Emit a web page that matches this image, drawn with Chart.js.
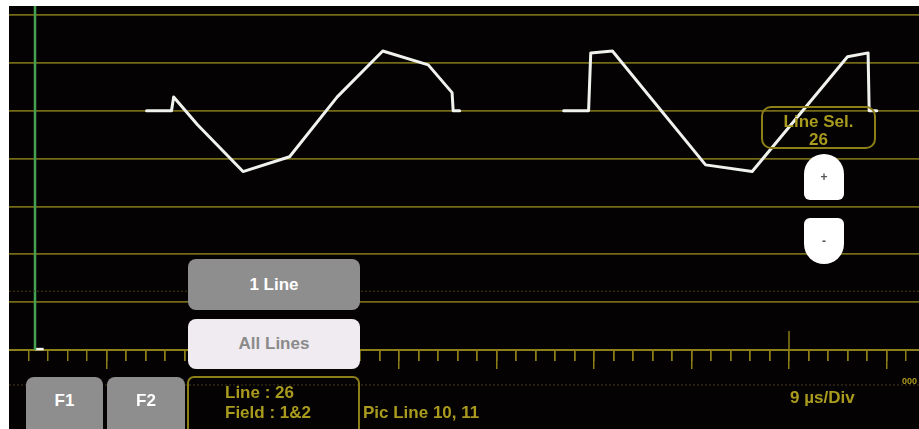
<!DOCTYPE html>
<html>
<head>
<meta charset="utf-8">
<script src="https://cdn.jsdelivr.net/npm/chart.js@4.4.1/dist/chart.umd.min.js"></script>
<style>
  html, body { margin: 0; padding: 0; background: #fff; }
  body { width: 919px; height: 429px; position: relative; overflow: hidden;
         font-family: 'Liberation Sans', Arial, sans-serif; font-weight: bold; }
  #screen { position: absolute; left: 9px; top: 6px; width: 910px; height: 423px; background: #050203; }
  #scope { position: absolute; left: 0; top: 0; }
  .btn { position: absolute; box-sizing: border-box; border-radius: 8px; display: flex;
         align-items: center; justify-content: center; font-size: 17px; }
  .gray { background: #8e8e8e; color: #fff; }
  .pale { background: #efebf0; color: #8a8a8a; }
  .olive { color: #a99b1e; }
  .box { position: absolute; box-sizing: border-box; border: 2px solid #8c7f17; }
  .txt { position: absolute; font-size: 17px; white-space: nowrap; line-height: 19px; }
  .pm { position: absolute; background: #fff; color: #555; font-size: 12px; display: flex;
        align-items: center; justify-content: center; }
</style>
</head>
<body>
<div id="screen">
  <canvas id="scope" width="910" height="423"></canvas>
</div>

<!-- overlays (page coordinates) -->
<div class="box" style="left:761px;top:106px;width:115px;height:43px;border-radius:10px;"></div>
<div class="txt olive" style="left:761px;top:112px;width:115px;text-align:center;">Line Sel.</div>
<div class="txt olive" style="left:761px;top:130px;width:115px;text-align:center;">26</div>

<div class="pm" style="left:804px;top:154px;width:40px;height:46px;border-radius:20px 20px 6px 6px;">+</div>
<div class="pm" style="left:804px;top:218px;width:40px;height:46px;border-radius:6px 6px 20px 20px;">-</div>

<div class="btn gray" style="left:188px;top:259px;width:172px;height:51px;">1 Line</div>
<div class="btn pale" style="left:188px;top:319px;width:172px;height:50px;">All Lines</div>

<div class="btn gray" style="left:26px;top:377px;width:77px;height:60px;padding-bottom:12px;">F1</div>
<div class="btn gray" style="left:107px;top:377px;width:78px;height:60px;padding-bottom:12px;">F2</div>

<div class="box" style="left:187px;top:376px;width:173px;height:60px;border-radius:7px;"></div>
<div class="txt olive" style="left:225px;top:383px;">Line : 26</div>
<div class="txt olive" style="left:225px;top:403px;">Field : 1&amp;2</div>
<div class="txt olive" style="left:363px;top:403px;">Pic Line 10, 11</div>
<div class="txt olive" style="left:790px;top:388px;">9 µs/Div</div>
<div class="txt olive" style="left:902px;top:376px;font-size:9px;line-height:10px;">000</div>

<script>
// Waveform monitor trace (x in µs, y in mV relative to blanking level)
const wave1Time  = [3.7, 6.0, 6.2, 8.4, 12.6, 16.9, 21.3, 25.5, 29.7, 31.9, 32.0, 32.6];
const wave1Level = [0, 0, 29, -29, -127, -96, 29, 125, 96, 38, 0, 0];
const wave2Time  = [42.2, 44.5, 44.7, 46.7, 55.3, 59.6, 68.4, 70.3, 70.4, 71.1];
const wave2Level = [0, 0, 121, 125, -113, -127, 113, 121, 0, 0];

// Graticule
const gridLevels  = [200, 100, 0, -100, -200, -300, -400, -500];
const dottedLevels = [-377, -573];
const axisLevel = -500;
const majorTicks = [0, 9, 18, 27, 36, 45, 54, 63, 72];
const minorTicks = [];
majorTicks.forEach(t => { for (let k = -4; k <= 4; k++) minorTicks.push(t + k * 1.8); });
const startMarkerTime = -6.6;
const cursorTime = 63;

const X_MIN = -9, X_MAX = 75, Y_MIN = -665, Y_MAX = 219;

function toPoints(xs, ys) {
  return xs.map((x, i) => ({ x: x, y: ys[i] }));
}

const datasets = [];

// dim dotted reference lines
dottedLevels.forEach(lv => {
  datasets.push({
    data: [{ x: X_MIN, y: lv }, { x: X_MAX, y: lv }],
    borderColor: '#4a3c1a', borderWidth: 1, borderDash: [2, 2], pointRadius: 0
  });
});

// green start-of-line marker
datasets.push({
  data: [{ x: startMarkerTime, y: Y_MAX }, { x: startMarkerTime, y: axisLevel }],
  borderColor: '#46a052', borderWidth: 2.5, pointRadius: 0
});
datasets.push({
  data: [{ x: startMarkerTime, y: axisLevel + 2 }, { x: startMarkerTime + 0.8, y: axisLevel + 2 }],
  borderColor: '#f2f2f2', borderWidth: 2.5, pointRadius: 0
});

// cursor tick on the time axis
datasets.push({
  data: [{ x: cursorTime, y: axisLevel + 40 }, { x: cursorTime, y: axisLevel }],
  borderColor: '#8c7f17', borderWidth: 1.5, pointRadius: 0
});

// the two waveforms
[toPoints(wave1Time, wave1Level), toPoints(wave2Time, wave2Level)].forEach(pts => {
  datasets.push({
    data: pts,
    borderColor: '#f0f2ee', borderWidth: 3, pointRadius: 0,
    borderJoinStyle: 'round', borderCapStyle: 'round', tension: 0
  });
});

const ctx = document.getElementById('scope').getContext('2d');
new Chart(ctx, {
  type: 'line',
  data: { datasets: datasets },
  options: {
    responsive: false,
    animation: false,
    layout: { padding: 0 },
    plugins: { legend: { display: false }, tooltip: { enabled: false } },
    scales: {
      x: {
        type: 'linear', min: X_MIN, max: X_MAX,
        position: { y: axisLevel },
        afterBuildTicks: s => { s.ticks = minorTicks.map(v => ({ value: v })); },
        ticks: { display: false },
        grid: { drawOnChartArea: false, drawTicks: true, tickLength: 10, color: '#8c7f17', lineWidth: 1.5 },
        border: { display: true, color: '#8c7f17', width: 2 }
      },
      x2: {
        type: 'linear', min: X_MIN, max: X_MAX,
        position: { y: axisLevel },
        afterBuildTicks: s => { s.ticks = majorTicks.map(v => ({ value: v })); },
        ticks: { display: false },
        grid: { drawOnChartArea: false, drawTicks: true, tickLength: 19, color: '#8c7f17', lineWidth: 1.5 },
        border: { display: false }
      },
      y: {
        type: 'linear', min: Y_MIN, max: Y_MAX,
        afterBuildTicks: s => { s.ticks = gridLevels.map(v => ({ value: v })); },
        ticks: { display: false },
        grid: { drawTicks: false, color: '#746a18', lineWidth: 1.8 },
        border: { display: false }
      }
    }
  }
});
</script>
</body>
</html>
